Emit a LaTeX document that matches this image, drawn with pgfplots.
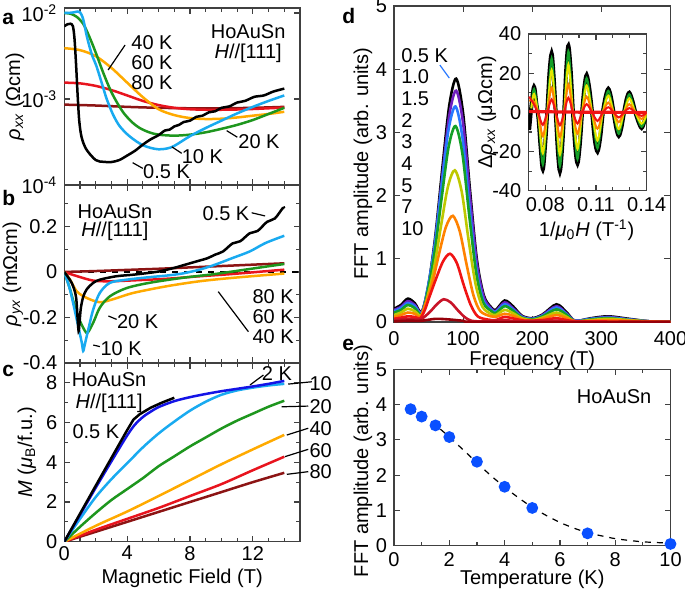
\documentclass[border=0pt]{standalone}
\usepackage{fontspec}
\setmainfont{Liberation Sans}
\usepackage{pgfplots}
\pgfplotsset{compat=1.18}

% colours of the temperature curves
\definecolor{cA10}{RGB}{25,170,240}
\definecolor{cA20}{RGB}{30,150,30}
\definecolor{cA40}{RGB}{255,170,0}
\definecolor{cA60}{RGB}{232,20,30}
\definecolor{cA80}{RGB}{140,20,20}
\definecolor{cA2}{RGB}{20,20,230}
\definecolor{d1}{RGB}{110,30,190}
\definecolor{d15}{RGB}{40,120,255}
\definecolor{d2}{RGB}{20,160,40}
\definecolor{d3}{RGB}{190,200,0}
\definecolor{d4}{RGB}{255,130,0}
\definecolor{d5}{RGB}{240,20,20}
\definecolor{d7}{RGB}{200,20,40}
\definecolor{d10}{RGB}{150,0,10}
\definecolor{iy}{RGB}{230,230,0}
\definecolor{ptblue}{RGB}{10,80,255}

\pgfplotsset{
  panel/.style={
    scale only axis, anchor=south west, clip mode=individual,
    /pgf/number format/assume math mode=true,
    axis line style={line width=0.7pt, black!75},
    every tick/.style={line width=0.6pt, black!75},
    tick align=inside, tick pos=both,
    major tick length=3pt, minor tick length=1.8pt,
    every axis plot/.append style={line width=1.25pt},
    ylabel style={anchor=center, inner sep=0pt},
    xlabel style={anchor=center, inner sep=0pt},
    xticklabel style={inner sep=1pt},
  },
  fieldx/.style={xmin=0, xmax=15, xtick={0,4,8,12},
    minor xtick={1,2,3,5,6,7,9,10,11,13,14}},
}

\begin{document}
\begin{tikzpicture}[font=\fontsize{10}{11.5}\selectfont]
\path[use as bounding box] (0,0) rectangle (342.5pt,298pt);

% ---------------- a ----------------
\begin{axis}[panel, fieldx, at={(32.15pt,205.5pt)}, width=117.85pt, height=88.5pt,
  ymode=log, ymin=1e-4, ymax=1.143e-2, xticklabels={},
  ytick={1e-4,1e-3,1e-2},
  yticklabels={10\textsuperscript{-4},10\textsuperscript{-3},10\textsuperscript{-2}},
  yminorticks=false,
  ylabel={\textit{ρ}\textsubscript{\textit{xx}} (Ωcm)},
  ylabel style={at={(rel axis cs:-0.209,0.5)}}]
\addplot[cA80, smooth] coordinates {(0,8.6e-4)(2,8.4e-4)(4,8.1e-4)(6,7.9e-4)(8,7.8e-4)(10,7.8e-4)(12,7.9e-4)(14,8.1e-4)};
\addplot[cA60, smooth] coordinates {(0,1.55e-3)(1,1.52e-3)(2,1.42e-3)(3,1.27e-3)(4,1.1e-3)(5,9.5e-4)(6,8.5e-4)(7,7.9e-4)(8,7.6e-4)(9,7.5e-4)(10,7.5e-4)(11,7.55e-4)(12,7.65e-4)(13,7.8e-4)(14,7.95e-4)};
\addplot[cA40, smooth] coordinates {(0,3.9e-3)(1,3.7e-3)(2,3.15e-3)(3,2.3e-3)(4,1.55e-3)(5,1.05e-3)(6,7.6e-4)(7,6.5e-4)(8,6.0e-4)(9,5.85e-4)(10,5.9e-4)(11,6.1e-4)(12,6.4e-4)(13,6.7e-4)(14,7.1e-4)};
\addplot[cA20, smooth] coordinates {(0,1.0e-2)(0.4,9.8e-3)(0.8,9.0e-3)(1.2,7.5e-3)(1.5,5.8e-3)(1.8,4.3e-3)(2.1,3.1e-3)(2.4,2.2e-3)(2.7,1.6e-3)(3.0,1.2e-3)(3.4,8.8e-4)(3.8,6.8e-4)(4.3,5.4e-4)(4.8,4.6e-4)(5.4,4.1e-4)(6,3.85e-4)(7,3.75e-4)(8,3.85e-4)(9,4.1e-4)(10,4.5e-4)(11,5.0e-4)(12,5.7e-4)(13,6.7e-4)(14,7.9e-4)};
\addplot[cA10, smooth] coordinates {(0,1.0e-2)(0.5,1.01e-2)(0.85,1.04e-2)(1.0,1.02e-2)(1.2,8.5e-3)(1.45,5.2e-3)(1.75,3.3e-3)(2.05,2.4e-3)(2.4,1.5e-3)(2.7,1.0e-3)(3.1,6.6e-4)(3.5,4.9e-4)(4.0,3.9e-4)(4.5,3.3e-4)(5.0,2.9e-4)(5.5,2.7e-4)(6.0,2.6e-4)(6.5,2.65e-4)(7,2.85e-4)(8,3.7e-4)(9,4.6e-4)(10,5.6e-4)(11,6.8e-4)(12,8.1e-4)(13,9.5e-4)(14,1.1e-3)};
\addplot[black, smooth] coordinates {(0,7.0e-3)(0.2,7.4e-3)(0.4,7.5e-3)(0.55,7.0e-3)(0.65,5.0e-3)(0.75,2.5e-3)(0.85,1.1e-3)(0.95,5.6e-4)(1.1,3.6e-4)(1.4,2.6e-4)(2.0,1.95e-4)(2.5,1.86e-4)(3.0,1.85e-4)(3.5,1.95e-4)(4.0,2.2e-4)(4.5,2.5e-4)(5.0,2.95e-4)(5.5,3.4e-4)(6.0,3.8e-4)(6.4,4.3e-4)(6.7,4.4e-4)(7.0,4.8e-4)(7.3,5.0e-4)(7.6,5.4e-4)(8.0,5.6e-4)(8.4,6.2e-4)(8.8,6.4e-4)(9.2,7.0e-4)(9.6,7.2e-4)(10.0,7.9e-4)(10.5,8.2e-4)(11.0,9.1e-4)(11.5,9.5e-4)(12.1,1.06e-3)(12.7,1.1e-3)(13.3,1.22e-3)(14.0,1.32e-3)};
\node[align=center, font=\fontsize{10}{10}\selectfont] at (rel axis cs:0.78,0.80) {HoAuSn\\\textit{H}//[111]};
\node[anchor=west, inner sep=0pt, align=left, font=\fontsize{10}{10}\selectfont] at (rel axis cs:0.283,0.689) {40 K\\60 K\\80 K};
\draw[line width=0.6pt] (rel axis cs:0.258,0.791) -- (rel axis cs:0.186,0.650);
\node at (rel axis cs:0.826,0.243) {20 K};
\draw[line width=0.6pt] (rel axis cs:0.689,0.307) -- (rel axis cs:0.734,0.270);
\node at (rel axis cs:0.586,0.158) {10 K};
\draw[line width=0.6pt] (rel axis cs:0.456,0.216) -- (rel axis cs:0.498,0.179);
\node at (rel axis cs:0.434,0.073) {0.5 K};
\draw[line width=0.6pt] (rel axis cs:0.290,0.126) -- (rel axis cs:0.333,0.094);
\end{axis}

% ---------------- b ----------------
\begin{axis}[panel, fieldx, at={(32.15pt,116.5pt)}, width=117.85pt, height=89pt,
  ymin=-0.4, ymax=0.382, xticklabels={},
  ytick={-0.4,-0.2,0,0.2}, minor ytick={-0.3,-0.1,0.1,0.3},
  yticklabels={-0.4,-0.2,0,0.2},
  ylabel={\textit{ρ}\textsubscript{\textit{yx}} (mΩcm)},
  ylabel style={at={(rel axis cs:-0.218,0.5)}}]
\addplot[black, dashed, line width=0.6pt] coordinates {(0,0)(15,0)};
\addplot[cA80, smooth] coordinates {(0,0)(2,0.004)(4,0.009)(6,0.014)(8,0.02)(10,0.026)(12,0.032)(14,0.038)};
\addplot[cA60, smooth] coordinates {(0,0)(0.79,-0.018)(1.84,-0.038)(2.9,-0.041)(4.4,-0.037)(6.5,-0.030)(8.6,-0.019)(10.7,-0.009)(14,0.010)};
\addplot[cA40, smooth] coordinates {(0,0)(0.37,-0.034)(0.79,-0.085)(1.42,-0.114)(2.26,-0.133)(3.1,-0.12)(4.4,-0.092)(6.5,-0.063)(8.6,-0.041)(10.7,-0.026)(14,-0.007)};
\addplot[cA20, smooth] coordinates {(0,0)(0.37,-0.077)(0.79,-0.18)(1.2,-0.245)(1.47,-0.267)(1.84,-0.223)(2.26,-0.157)(2.9,-0.107)(3.96,-0.071)(5.4,-0.048)(7.5,-0.026)(9.6,-0.009)(11.8,0.013)(14,0.035)};
\addplot[cA10, smooth] coordinates {(0,0)(0.36,-0.077)(0.79,-0.208)(1.11,-0.31)(1.2,-0.347)(1.3,-0.32)(1.53,-0.252)(1.84,-0.165)(2.26,-0.092)(2.9,-0.048)(3.96,-0.034)(5.4,-0.023)(6.5,-0.016)(7.5,-0.007)(8.6,0.01)(9.6,0.032)(10.7,0.061)(11.8,0.09)(12.8,0.127)(14,0.159)};
\addplot[black, smooth] coordinates {(0,0)(0.47,-0.048)(0.74,-0.107)(0.85,-0.208)(0.91,-0.26)(0.96,-0.23)(1.05,-0.16)(1.2,-0.11)(1.42,-0.077)(1.84,-0.048)(2.26,-0.034)(3.3,-0.019)(4.4,-0.012)(5.4,-0.004)(6.1,0.003)(7.0,0.018)(7.5,0.028)(8.1,0.04)(8.6,0.05)(9.1,0.06)(9.6,0.076)(10.1,0.09)(10.7,0.125)(11.2,0.135)(11.8,0.17)(12.3,0.18)(12.9,0.22)(13.4,0.235)(13.9,0.28)(14,0.28)};
\node[align=center, font=\fontsize{10}{8.9}\selectfont] at (rel axis cs:0.215,0.79) {HoAuSn\\\textit{H}//[111]};
\node at (rel axis cs:0.686,0.841) {0.5 K};
\draw[line width=0.6pt] (rel axis cs:0.795,0.844) -- (rel axis cs:0.852,0.826);
\node[align=center, font=\fontsize{10}{10}\selectfont] at (rel axis cs:0.886,0.260) {80 K\\60 K\\40 K};
\draw[line width=0.6pt] (rel axis cs:0.653,0.401) -- (rel axis cs:0.781,0.176);
\node at (rel axis cs:0.311,0.232) {20 K};
\draw[line width=0.6pt] (rel axis cs:0.187,0.264) -- (rel axis cs:0.222,0.245);
\node at (rel axis cs:0.241,0.083) {10 K};
\draw[line width=0.6pt] (rel axis cs:0.123,0.101) -- (rel axis cs:0.151,0.092);
\end{axis}

% ---------------- c ----------------
\begin{axis}[panel, fieldx, at={(32.15pt,27.15pt)}, width=117.85pt, height=89.35pt,
  ymin=0, ymax=9, ytick={0,2,4,6,8}, minor ytick={1,3,5,7},
  xticklabel style={yshift=-1pt},
  xlabel={Magnetic Field (T)}, xlabel style={at={(rel axis cs:0.5,-0.205)}},
  ylabel={\textit{M} (\textit{μ}\textsubscript{B}/f.u.)},
  ylabel style={at={(rel axis cs:-0.158,0.5)}}]
\addplot[cA80, smooth] coordinates {(0,0)(2,0.5)(4,1.0)(6,1.5)(8,2.0)(10,2.5)(12,3.0)(14,3.47)};
\addplot[cA60, smooth] coordinates {(0,0)(2,0.6)(4,1.15)(6,1.7)(8,2.3)(10,2.9)(12,3.6)(14,4.28)};
\addplot[cA40, smooth] coordinates {(0,0)(2,0.8)(4,1.52)(6,2.3)(8,3.1)(10,3.9)(12,4.65)(14,5.38)};
\addplot[cA20, smooth] coordinates {(0,0)(1,0.75)(2,1.45)(3,2.1)(4,2.65)(5,3.2)(6,3.8)(7,4.3)(8,4.8)(9,5.25)(10,5.7)(11,6.1)(12,6.45)(13,6.8)(14,7.1)};
\addplot[cA10, smooth] coordinates {(0,0)(1,1.15)(2,2.25)(3,3.15)(4,3.95)(5,4.75)(6,5.45)(7,6.05)(8,6.6)(9,7.05)(10,7.4)(11,7.62)(12,7.76)(13,7.87)(14,7.95)};
\addplot[cA2, smooth] coordinates {(0,0)(1,1.35)(2,2.72)(3,4.05)(4,5.35)(4.5,5.9)(5,6.28)(5.5,6.55)(6,6.78)(7,7.08)(8,7.28)(9,7.44)(10,7.58)(11,7.7)(12,7.82)(13,7.95)(14,8.1)};
\addplot[black] coordinates {(0,0)(1,1.41)(2,2.82)(3,4.22)(4,5.62)(4.4,6.15)(4.8,6.42)(5.5,6.75)(6.2,7.0)(7.0,7.25)};
\node[align=center, font=\fontsize{10}{10.6}\selectfont] at (rel axis cs:0.19,0.835) {HoAuSn\\\textit{H}//[111]};
\node at (rel axis cs:0.134,0.616) {0.5 K};
\node at (rel axis cs:0.902,0.944) {2 K};
\draw[line width=0.6pt] (rel axis cs:0.788,0.877) -- (rel axis cs:0.845,0.933);
\node at (rel axis cs:1.088,0.882) {10};
\node at (rel axis cs:1.088,0.755) {20};
\node at (rel axis cs:1.088,0.635) {40};
\node at (rel axis cs:1.088,0.509) {60};
\node at (rel axis cs:1.088,0.392) {80};
\draw[line width=0.6pt] (rel axis cs:0.950,0.882) -- (rel axis cs:1.050,0.895);
\draw[line width=0.6pt] (rel axis cs:0.922,0.755) -- (rel axis cs:1.035,0.759);
\draw[line width=0.6pt] (rel axis cs:0.944,0.597) -- (rel axis cs:1.035,0.635);
\draw[line width=0.6pt] (rel axis cs:0.936,0.476) -- (rel axis cs:1.035,0.517);
\draw[line width=0.6pt] (rel axis cs:0.944,0.377) -- (rel axis cs:1.035,0.392);
\end{axis}

% ---------------- d ----------------
\begin{axis}[panel, at={(197pt,137pt)}, width=138.25pt, height=158pt,
  xmin=0, xmax=400, ymin=0, ymax=5, xtick={0,100,200,300,400}, ytick={0,1,2,3,4,5},
  xticklabel style={yshift=-3.5pt},
  xlabel={Frequency (T)}, xlabel style={at={(rel axis cs:0.5,-0.12)}},
  ylabel={FFT amplitude (arb. units)}, ylabel style={at={(rel axis cs:-0.112,0.5)}},
  every axis plot/.append style={line width=1.3pt}]
\addplot[black, smooth] coordinates {(0,0.21)(10,0.27)(20,0.37)(30,0.30)(40,0.16)(50,0.60)(60,1.38)(70,2.44)(80,3.43)(90,3.85)(100,3.30)(110,2.08)(120,0.98)(130,0.42)(140,0.24)(147,0.19)(160,0.34)(172,0.25)(185,0.10)(200,0.06)(215,0.12)(235,0.28)(250,0.15)(262,0.02)(285,0.06)(310,0.09)(340,0.05)(370,0.01)(400,0)};
\addplot[d1, smooth] coordinates {(0,0.19)(10,0.24)(20,0.33)(30,0.27)(40,0.15)(50,0.57)(60,1.32)(70,2.32)(80,3.27)(90,3.66)(100,3.14)(110,1.97)(120,0.92)(130,0.39)(140,0.22)(147,0.17)(160,0.31)(172,0.22)(185,0.09)(200,0.05)(215,0.11)(235,0.25)(250,0.13)(262,0.02)(285,0.05)(310,0.08)(340,0.04)(370,0.01)(400,0)};
\addplot[d15, smooth] coordinates {(0,0.17)(10,0.22)(20,0.30)(30,0.25)(40,0.14)(49,0.55)(59,1.23)(69,2.17)(79,3.05)(89,3.41)(99,2.92)(109,1.84)(119,0.85)(129,0.35)(140,0.20)(147,0.16)(160,0.28)(172,0.20)(185,0.08)(200,0.05)(215,0.10)(235,0.23)(250,0.12)(262,0.02)(285,0.05)(310,0.07)(340,0.04)(370,0.01)(400,0)};
\addplot[d2, smooth] coordinates {(0,0.15)(10,0.19)(20,0.27)(30,0.22)(40,0.12)(49,0.50)(59,1.12)(69,1.97)(79,2.77)(89,3.10)(99,2.66)(109,1.67)(119,0.77)(129,0.31)(140,0.18)(147,0.14)(160,0.25)(172,0.18)(185,0.07)(200,0.04)(215,0.09)(235,0.20)(250,0.11)(262,0.01)(285,0.04)(310,0.06)(340,0.03)(370,0.01)(400,0)};
\addplot[d3, smooth] coordinates {(0,0.11)(10,0.15)(20,0.21)(30,0.17)(40,0.10)(48,0.38)(58,0.86)(68,1.52)(78,2.14)(88,2.40)(98,2.06)(108,1.29)(118,0.60)(128,0.24)(140,0.13)(147,0.11)(160,0.19)(172,0.14)(185,0.06)(200,0.03)(215,0.07)(235,0.15)(250,0.08)(262,0.01)(285,0.03)(310,0.05)(340,0.03)(370,0.005)(400,0)};
\addplot[d4, smooth] coordinates {(0,0.08)(10,0.11)(20,0.15)(30,0.13)(38,0.08)(45,0.27)(55,0.60)(65,1.07)(75,1.50)(85,1.68)(95,1.44)(105,0.91)(115,0.42)(125,0.17)(140,0.09)(147,0.08)(160,0.13)(172,0.10)(185,0.04)(200,0.02)(215,0.05)(235,0.11)(250,0.06)(262,0.01)(285,0.02)(310,0.03)(340,0.02)(400,0)};
\addplot[d5, smooth] coordinates {(0,0.05)(10,0.07)(20,0.09)(30,0.08)(38,0.06)(45,0.20)(51,0.39)(61,0.69)(71,0.96)(81,1.08)(91,0.93)(101,0.58)(111,0.27)(121,0.09)(135,0.04)(147,0.03)(160,0.08)(175,0.05)(190,0.02)(215,0.03)(235,0.06)(255,0.02)(280,0.01)(400,0)};
\addplot[d7, smooth] coordinates {(0,0.03)(10,0.04)(20,0.05)(30,0.04)(40,0.05)(52,0.16)(62,0.28)(72,0.36)(82,0.31)(92,0.19)(102,0.08)(112,0.02)(130,0.01)(160,0.03)(180,0.01)(235,0.02)(260,0.0)(400,0)};
\addplot[d10, smooth] coordinates {(0,0.01)(20,0.02)(40,0.02)(60,0.05)(80,0.04)(100,0.02)(130,0.0)(400,0)};
\node[anchor=north west, inner sep=0pt, align=left, font=\fontsize{10}{10.85}\selectfont] at (rel axis cs:0.025,0.868) {0.5 K\\1.0\\1.5\\2\\3\\4\\5\\7\\10};
\draw[line width=0.6pt, d15] (rel axis cs:0.166,0.813) -- (rel axis cs:0.200,0.772);
\end{axis}

% ---------------- d inset ----------------
\begin{axis}[panel, at={(264.15pt,202.65pt)}, width=59.2pt, height=78.35pt,
  xmin=0.07, xmax=0.14, ymin=-40, ymax=40,
  xtick={0.08,0.11,0.14}, xticklabels={0.08,0.11,0.14},
  minor xtick={0.07,0.09,0.10,0.12,0.13},
  ytick={-40,-20,0,20,40}, minor ytick={-30,-10,10,30},
  yticklabels={-40,-20,0,20,40},
  xticklabel style={yshift=-2pt},
  xlabel={1/\textit{μ}\textsubscript{0}\textit{H} (T\textsuperscript{-1})},
  xlabel style={at={(rel axis cs:0.493,-0.251)}},
  ylabel={Δ\textit{ρ}\textsubscript{\textit{xx}} (μΩcm)},
  ylabel style={at={(rel axis cs:-0.349,0.5)}}]
\addplot[black, smooth, line width=2pt] coordinates {(0.0705,-9)(0.0718,3)(0.0734,13)(0.0748,4)(0.0760,-3)(0.0773,-18)(0.0786,-29)(0.0799,-17)(0.0812,0)(0.0825,20)(0.0838,30)(0.0850,18)(0.0862,0)(0.0875,-20)(0.0887,-30)(0.0900,-18)(0.0912,0)(0.0925,23)(0.0937,34)(0.0951,21)(0.0964,0)(0.0978,-18)(0.0991,-26)(0.1005,-16)(0.1018,0)(0.1032,13)(0.1045,19)(0.1061,12)(0.1077,0)(0.1093,-14)(0.1109,-20)(0.1125,-13)(0.1141,0)(0.1157,8)(0.1173,12)(0.1188,8)(0.1204,0)(0.1220,-8)(0.1235,-12)(0.1250,-8)(0.1266,0)(0.1282,7)(0.1297,10)(0.1315,6)(0.1333,0)(0.1352,-5)(0.1370,-8)(0.1385,-5)(0.1400,-1)};
\addplot[d2, smooth, line width=1pt] coordinates {(0.0718,2)(0.0734,12)(0.0760,-2)(0.0786,-26.7)(0.0812,0)(0.0838,27.6)(0.0862,0)(0.0887,-27.6)(0.0912,0)(0.0937,31.3)(0.0964,0)(0.0991,-23.9)(0.1018,0)(0.1045,17.5)(0.1077,0)(0.1109,-18.4)(0.1141,0)(0.1173,11)(0.1204,0)(0.1235,-11)(0.1266,0)(0.1297,9.2)(0.1333,0)(0.1370,-7.4)(0.1400,-1)};
\addplot[iy, smooth, line width=1pt] coordinates {(0.0718,2)(0.0734,9.4)(0.0760,-2)(0.0786,-20.9)(0.0812,0)(0.0838,21.6)(0.0862,0)(0.0887,-21.6)(0.0912,0)(0.0937,24.5)(0.0964,0)(0.0991,-18.7)(0.1018,0)(0.1045,13.7)(0.1077,0)(0.1109,-14.4)(0.1141,0)(0.1173,8.6)(0.1204,0)(0.1235,-8.6)(0.1266,0)(0.1297,7.2)(0.1333,0)(0.1370,-5.8)(0.1400,-1)};
\addplot[d4, smooth, line width=1pt] coordinates {(0.0705,6)(0.0734,5.5)(0.0760,-1)(0.0786,-12.2)(0.0812,0)(0.0838,12.6)(0.0862,0)(0.0887,-12.6)(0.0912,0)(0.0937,14.3)(0.0964,0)(0.0991,-10.9)(0.1018,0)(0.1045,8.0)(0.1077,0)(0.1109,-8.4)(0.1141,0)(0.1173,5.0)(0.1204,0)(0.1235,-5.0)(0.1266,0)(0.1297,4.2)(0.1333,0)(0.1370,-3.4)(0.1400,0)};
\addplot[d5, smooth, line width=1pt] coordinates {(0.0705,8)(0.0734,4)(0.0760,-1)(0.0786,-6.4)(0.0812,0)(0.0838,6.6)(0.0862,0)(0.0887,-6.6)(0.0912,0)(0.0937,7.5)(0.0964,0)(0.0991,-5.7)(0.1018,0)(0.1045,4.2)(0.1077,0)(0.1109,-4.4)(0.1141,0)(0.1173,2.6)(0.1204,0)(0.1235,-2.6)(0.1266,0)(0.1297,2.2)(0.1333,0)(0.1370,-1.8)(0.1400,0)};
\addplot[d5, line width=1.6pt] coordinates {(0.0705,0.5)(0.08,0.3)(0.09,0.2)(0.10,0.1)(0.12,0)(0.14,0)};
\end{axis}

% ---------------- e ----------------
\begin{axis}[panel, at={(197pt,25.15pt)}, width=138.25pt, height=88.2pt,
  xmin=0, xmax=10, ymin=0, ymax=5,
  xtick={0,2,4,6,8,10}, minor xtick={1,3,5,7,9}, ytick={0,1,2,3,4,5},
  xticklabel style={yshift=-2.3pt},
  xlabel={Temperature (K)}, xlabel style={at={(rel axis cs:0.5,-0.19)}},
  ylabel={FFT amplitude (arb. units)}, ylabel style={at={(rel axis cs:-0.112,0.48)}}]
\addplot[black, dashed, line width=0.6pt, smooth] coordinates {(0.6,3.87)(1,3.69)(1.5,3.42)(2,3.08)(2.5,2.72)(3,2.35)(3.5,1.99)(4,1.66)(4.5,1.36)(5,1.09)(5.5,0.86)(6,0.66)(6.5,0.50)(7,0.37)(7.5,0.28)(8,0.20)(8.5,0.15)(9,0.11)(9.5,0.09)(10,0.07)};
\addplot[only marks, mark=*, mark size=2.3pt, ptblue] coordinates {(0.6,3.87)(1,3.66)(1.5,3.41)(2,3.08)(3,2.38)(4,1.67)(5,1.07)(7,0.35)(10,0.05)};
\node at (rel axis cs:0.796,0.845) {HoAuSn};
\end{axis}

% panel letters
\node[anchor=base west, inner sep=0pt, font=\bfseries\fontsize{10.5}{12}\selectfont] at (1pt,285.5pt) {a};
\node[anchor=base west, inner sep=0pt, font=\bfseries\fontsize{10.5}{12}\selectfont] at (1pt,195.5pt) {b};
\node[anchor=base west, inner sep=0pt, font=\bfseries\fontsize{10.5}{12}\selectfont] at (1pt,109.65pt) {c};
\node[anchor=base west, inner sep=0pt, font=\bfseries\fontsize{10.5}{12}\selectfont] at (171pt,286.35pt) {d};
\node[anchor=base west, inner sep=0pt, font=\bfseries\fontsize{10.5}{12}\selectfont] at (171pt,123pt) {e};
\end{tikzpicture}
\end{document}
